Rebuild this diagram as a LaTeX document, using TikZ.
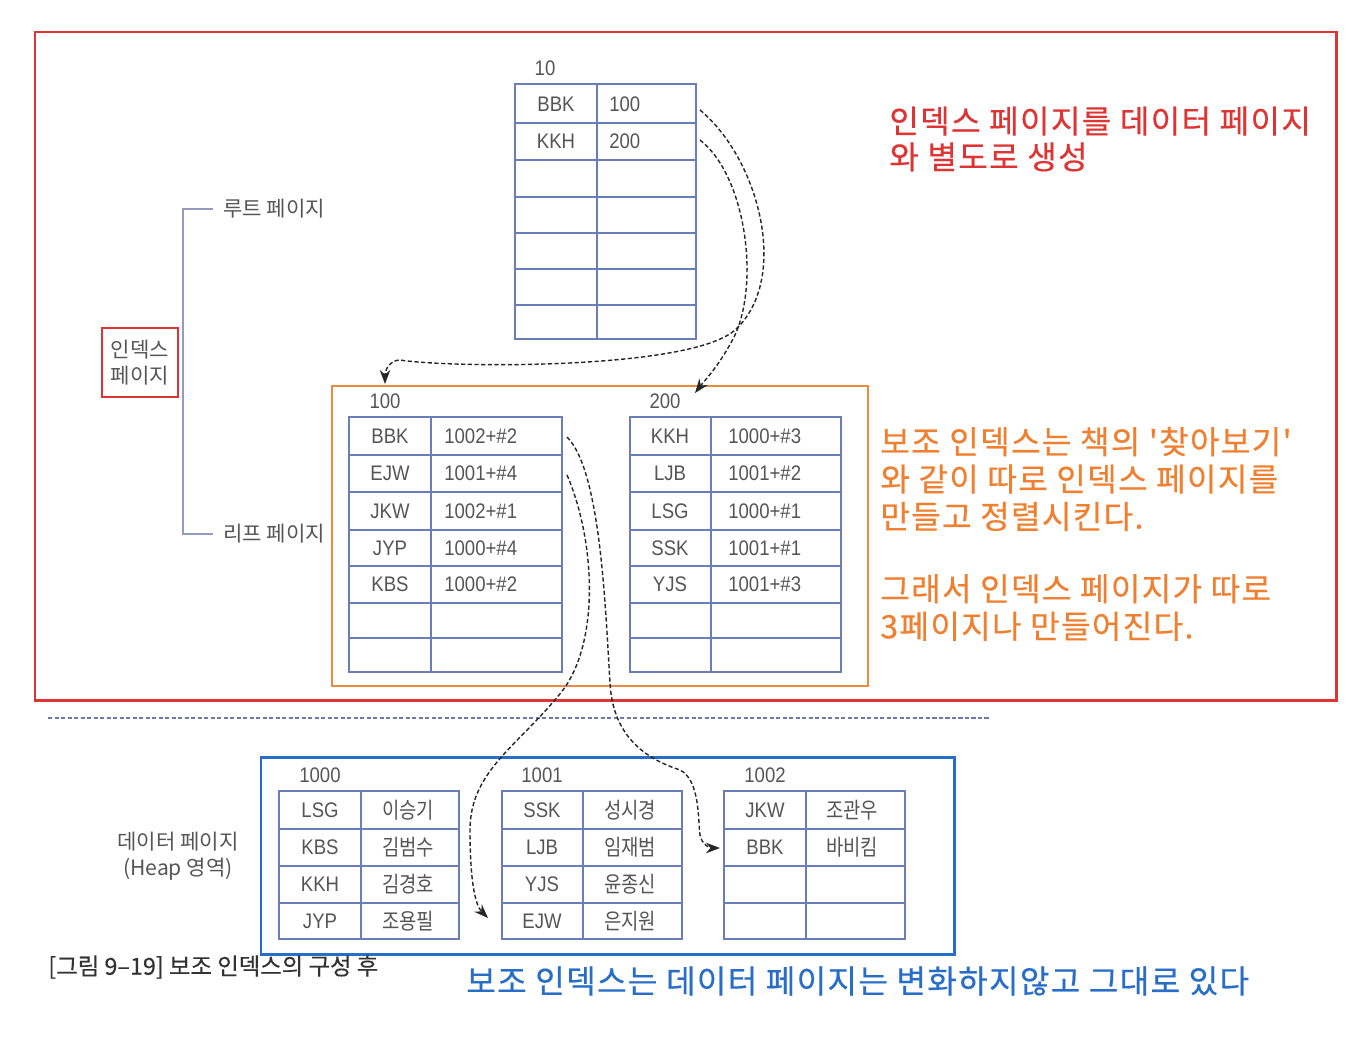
\documentclass[tikz,border=0pt]{standalone}
\usepackage{fontspec}
\setmainfont{Noto Sans CJK KR}
\newfontfamily\tabf[FakeStretch=0.88]{Liberation Sans}
\newfontfamily\tabk[FakeStretch=0.85]{Noto Sans CJK KR}
\newfontfamily\krf{Noto Sans CJK KR}
\newfontfamily\capf[FakeBold=0.3]{Noto Sans CJK KR}
\newfontfamily\annf[LetterSpace=4,FakeBold=0.4]{Noto Sans CJK KR}
\usetikzlibrary{arrows.meta}
\definecolor{redc}{RGB}{222,52,52}
\definecolor{orgb}{RGB}{232,140,64}
\definecolor{orgt}{RGB}{240,128,48}
\definecolor{bluec}{RGB}{40,110,200}
\definecolor{tblc}{RGB}{105,125,185}
\definecolor{greyc}{RGB}{85,85,85}
\definecolor{brkc}{RGB}{150,155,190}
\definecolor{sepc}{RGB}{110,120,170}
\tikzset{
  tbl/.style={draw=tblc, line width=1.1pt},
  tabtxt/.style={font=\tabf\fontsize{12}{14}\selectfont, text=greyc, inner sep=0pt},
  tabkr/.style={font=\tabk\fontsize{12.6}{14}\selectfont, text=greyc, inner sep=0pt},
  sidetxt/.style={font=\krf\fontsize{12}{15}\selectfont, text=greyc, inner sep=0pt, align=center},
  darr/.style={draw=black!85, line width=0.8pt, dash pattern=on 2.4pt off 1.4pt, -{Stealth[length=8pt,width=6pt]}},
  annot/.style={font=\annf\fontsize{18.3}{21}\selectfont, inner sep=0pt, align=left, anchor=west},
}
\begin{document}
\begin{tikzpicture}[x=0.02cm,y=-0.02cm]
\useasboundingbox (0,0) rectangle (1352,1038);
\fill[white] (0,0) rectangle (1352,1038);

% ===== frames =====
\draw[redc, line width=1.7pt] (35,32) rectangle (1336,700);
\draw[orgb, line width=1.6pt] (332,386) rectangle (868,686);
\draw[bluec, line width=1.7pt] (261,757) rectangle (954,954);
\draw[sepc, line width=1pt, dash pattern=on 2.5pt off 1.2pt] (48,718) -- (990,718);

% ===== root page 10 =====
\node[tabtxt] (lbl10) at (545,68) {10};
\draw[tbl] (515,84) rectangle (696,339);
\draw[tbl] (597,84) -- (597,339);
\foreach \y in {123,160,197,233,269,305} \draw[tbl] (515,\y) -- (696,\y);
\node[tabtxt] (r1a) at (556,104) {BBK};
\node[tabtxt, anchor=west] (r1b) at (609,104) {100};
\node[tabtxt] (r2a) at (556,141) {KKH};
\node[tabtxt, anchor=west] (r2b) at (609,141) {200};

% ===== leaf page 100 =====
\node[tabtxt] (lbl100) at (385,401) {100};
\draw[tbl] (349,417) rectangle (562,672);
\draw[tbl] (431,417) -- (431,672);
\foreach \y in {455,492,530,566,603,638} \draw[tbl] (349,\y) -- (562,\y);
\foreach \k/\v/\y [count=\i] in {BBK/1002+\#2/436, EJW/1001+\#4/473.5, JKW/1002+\#1/511, JYP/1000+\#4/548, KBS/1000+\#2/584.5}{
  \node[tabtxt] (la\i) at (390,\y) {\k};
  \node[tabtxt, anchor=west] (lb\i) at (444,\y) {\v};
}

% ===== leaf page 200 =====
\node[tabtxt] (lbl200) at (665,401) {200};
\draw[tbl] (630,417) rectangle (841,672);
\draw[tbl] (711,417) -- (711,672);
\foreach \y in {455,492,530,566,603,638} \draw[tbl] (630,\y) -- (841,\y);
\foreach \k/\v/\y [count=\i] in {KKH/1000+\#3/436, LJB/1001+\#2/473.5, LSG/1000+\#1/511, SSK/1001+\#1/548, YJS/1001+\#3/584.5}{
  \node[tabtxt] (ma\i) at (670,\y) {\k};
  \node[tabtxt, anchor=west] (mb\i) at (728,\y) {\v};
}

% ===== data pages =====
\foreach \nm/\xa/\xm/\xb/\lx in {1000/279/361/459/320, 1001/502/583/682/542, 1002/724/806/905/765}{
  \node[tabtxt] (dl\nm) at (\lx,775) {\nm};
  \draw[tbl] (\xa,791) rectangle (\xb,939);
  \draw[tbl] (\xm,791) -- (\xm,939);
  \foreach \y in {829,866,903} \draw[tbl] (\xa,\y) -- (\xb,\y);
}
\foreach \k/\v/\y [count=\i] in {LSG/이승기/810, KBS/김범수/847.5, KKH/김경호/884.5, JYP/조용필/921}{
  \node[tabtxt] (da\i) at (320,\y) {\k};
  \node[tabkr] (db\i) at (408,\y) {\v};
}
\foreach \k/\v/\y [count=\i] in {SSK/성시경/810, LJB/임재범/847.5, YJS/윤종신/884.5, EJW/은지원/921}{
  \node[tabtxt] (ea\i) at (542,\y) {\k};
  \node[tabkr] (eb\i) at (630,\y) {\v};
}
\node[tabtxt] (fa1) at (765,810) {JKW};
\node[tabkr] (fb1) at (852,810) {조관우};
\node[tabtxt] (fa2) at (765,847.5) {BBK};
\node[tabkr] (fb2) at (852,847.5) {바비킴};

% ===== side labels =====
\node[sidetxt, anchor=west] (rootlbl) at (223,209) {루트 페이지};
\node[sidetxt, anchor=west] (leaflbl) at (223,534) {리프 페이지};
\draw[brkc, line width=0.8pt] ([xshift=-0.2cm]rootlbl.west) -- (183,209) -- (183,534) -- ([xshift=-0.2cm]leaflbl.west);
\node[sidetxt, draw=redc, line width=1.6pt, minimum width=1.52cm, minimum height=1.38cm, fill=white] (idxbox) at (140,362.5) {인덱스\\페이지};
\node[sidetxt] (datalbl) at (178,856) {데이터 페이지\\(Heap 영역)};
\node[font=\capf\fontsize{13.3}{15}\selectfont, text=black!80, inner sep=0pt, anchor=west] (caption) at (48,967) {[그림 9–19] 보조 인덱스의 구성 후};

% ===== annotations =====
\node[annot, text=redc, font=\annf\fontsize{18.3}{20.4}\selectfont] (noteR) at (889,139) {인덱스 페이지를 데이터 페이지\\와 별도로 생성};
\node[annot, text=orgt, font=\annf\fontsize{18.3}{21.3}\selectfont] (noteO1) at (880,479) {보조 인덱스는 책의 '찾아보기'\\와 같이 따로 인덱스 페이지를\\만들고 정렬시킨다.};
\node[annot, text=orgt, font=\annf\fontsize{18.3}{21.3}\selectfont] (noteO2) at (880,607.5) {그래서 인덱스 페이지가 따로\\3페이지나 만들어진다.};
\node[annot, text=bluec] (noteB) at (466,981) {보조 인덱스는 데이터 페이지는 변화하지않고 그대로 있다};

% ===== connectors =====
\coordinate (a1s) at (700,110);
\coordinate (a1e) at (385,384);
\coordinate (a2s) at (700,140);
\coordinate (a2e) at (695,393);
\coordinate (a3s) at (567,437);
\coordinate (a3e) at (720,848);
\coordinate (a4s) at (567,475);
\coordinate (a4e) at (488,918);
\draw[darr] (a1s) .. controls (760,160) and (790,280) .. (735,330) .. controls (690,370) and (450,368) .. (400,360) .. controls (390,360) and (385,370) .. (a1e);
\draw[darr] (a2s) .. controls (745,175) and (760,280) .. (735,335) .. controls (720,365) and (705,380) .. (a2e);
\draw[darr] (a3s) .. controls (600,470) and (605,600) .. (610,683) .. controls (613,740) and (650,760) .. (680,770) .. controls (700,780) and (698,820) .. (700,835) .. controls (702,845) and (710,848) .. (a3e);
\draw[darr] (a4s) .. controls (595,540) and (600,640) .. (563,690) .. controls (520,745) and (470,770) .. (470,830) .. controls (470,880) and (475,905) .. (a4e);
\end{tikzpicture}
\end{document}
